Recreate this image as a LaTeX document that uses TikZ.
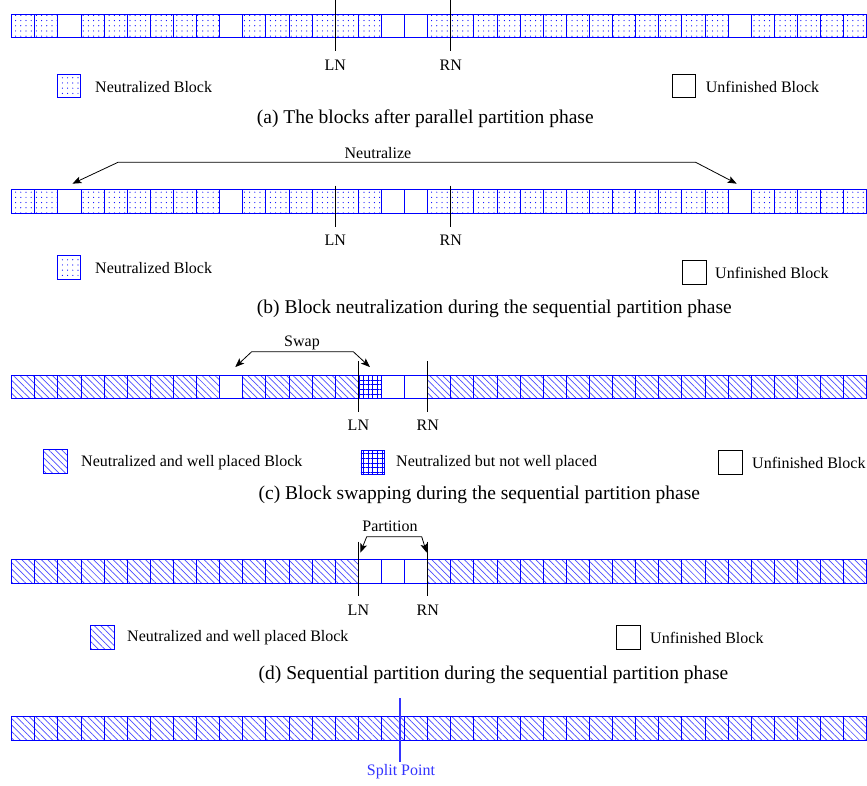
\documentclass[tikz,border=0pt]{standalone}
\usepackage{fontspec}
\setmainfont{Liberation Serif}
\usetikzlibrary{patterns.meta,arrows.meta}
\begin{document}
\begin{tikzpicture}[x=1pt,y=-1pt,
  blk/.style={draw=blue, line width=0.9pt, minimum width=23.11pt, minimum height=23.3pt, inner sep=0pt, outer sep=0pt},
  dotb/.style={blk, pattern={Dots[distance=5.2pt, radius=0.6pt]}, pattern color=blue},
  hatb/.style={blk, pattern={Lines[angle=-45, distance=4.6pt, line width=0.7pt]}, pattern color=blue!70},
  gridb/.style={blk, pattern={Hatch[angle=0, distance=4.6pt, line width=0.6pt]}, pattern color=blue},
  unf/.style={draw=black, line width=0.9pt, minimum width=23.3pt, minimum height=23.3pt, inner sep=0pt},
  lbl/.style={font=\fontsize{16}{19}\selectfont, inner sep=0pt},
  captxt/.style={font=\fontsize{19.5}{23}\selectfont, inner sep=0pt, anchor=west},
  mk/.style={line width=1.1pt, black},
  arr2/.style={line width=0.8pt, {Stealth[length=9pt,width=7pt,inset=2pt]}-{Stealth[length=9pt,width=7pt,inset=2pt]}}
]
\useasboundingbox (0,0) rectangle (867,785);

% ---------------- (a) ----------------
\foreach \i in {0,...,36}{
  \pgfmathtruncatemacro\e{(\i==2)||(\i==9)||(\i==16)||(\i==17)||(\i==31)}
  \ifnum\e=1 \node[blk] (a-\i) at ({11.7+(\i+0.5)*23.11},25.7) {};
  \else \node[dotb] (a-\i) at ({11.7+(\i+0.5)*23.11},25.7) {}; \fi
}
\coordinate (aLNt) at (335.2,0); \coordinate (aLNb) at (335.2,50.7);
\coordinate (aRNt) at (450.8,0); \coordinate (aRNb) at (450.8,50.7);
\draw[mk] (aLNt) -- (aLNb);
\draw[mk] (aRNt) -- (aRNb);
\node[lbl] (aLN) at (335.2,65) {LN};
\node[lbl] (aRN) at (450.8,65) {RN};
\node[dotb] (aleg1) at (69,86) {};
\node[lbl, anchor=west] (aleg1t) at (95,87.3) {Neutralized Block};
\node[unf] (aleg2) at (684,85.7) {};
\node[lbl, anchor=west] (aleg2t) at (705.7,87.3) {Unfinished Block};
\node[captxt] (acap) at (256.7,119) {(a) The blocks after parallel partition phase};

% ---------------- (b) ----------------
\foreach \i in {0,...,36}{
  \pgfmathtruncatemacro\e{(\i==2)||(\i==9)||(\i==16)||(\i==17)||(\i==31)}
  \ifnum\e=1 \node[blk] (b-\i) at ({11.7+(\i+0.5)*23.11},201.3) {};
  \else \node[dotb] (b-\i) at ({11.7+(\i+0.5)*23.11},201.3) {}; \fi
}
\coordinate (bLNt) at (335.2,185.7); \coordinate (bLNb) at (335.2,226.7);
\coordinate (bRNt) at (450.8,185.7); \coordinate (bRNb) at (450.8,226.7);
\draw[mk] (bLNt) -- (bLNb);
\draw[mk] (bRNt) -- (bRNb);
\node[lbl] (bLN) at (335.2,240.5) {LN};
\node[lbl] (bRN) at (450.8,240.5) {RN};
\coordinate (nz1) at (118,162.3);
\coordinate (nz2) at (695.7,162.3);
\draw[arr2] ([shift={(3,-6)}]b-2.north) -- (nz1) -- (nz2) -- ([shift={(-3,-6)}]b-31.north);
\node[lbl] (nzt) at (378,153) {Neutralize};
\node[dotb] (bleg1) at (69,267.5) {};
\node[lbl, anchor=west] (bleg1t) at (95,268) {Neutralized Block};
\node[unf] (bleg2) at (694.5,272.5) {};
\node[lbl, anchor=west] (bleg2t) at (715,272.5) {Unfinished Block};
\node[captxt] (bcap) at (256.7,308.5) {(b) Block neutralization during the sequential partition phase};

% ---------------- (c) ----------------
\foreach \i in {0,...,36}{
  \pgfmathtruncatemacro\e{(\i==9)||(\i==16)||(\i==17)}
  \ifnum\i=15 \node[gridb] (c-\i) at ({11.7+(\i+0.5)*23.11},386.7) {};
  \else\ifnum\e=1 \node[blk] (c-\i) at ({11.7+(\i+0.5)*23.11},386.7) {};
  \else \node[hatb] (c-\i) at ({11.7+(\i+0.5)*23.11},386.7) {}; \fi\fi
}
\coordinate (cLNt) at (358.4,361); \coordinate (cLNb) at (358.4,411.7);
\coordinate (cRNt) at (427.7,361); \coordinate (cRNb) at (427.7,411.7);
\draw[mk] (cLNt) -- (cLNb);
\draw[mk] (cRNt) -- (cRNb);
\node[lbl] (cLN) at (358.4,425) {LN};
\node[lbl] (cRN) at (427.7,425) {RN};
\coordinate (sw1) at (251.7,351.7);
\coordinate (sw2) at (353.3,351.7);
\draw[arr2] ([shift={(4,-8)}]c-9.north) -- (sw1) -- (sw2) -- ([shift={(0,-8)}]c-15.north);
\node[lbl] (swt) at (302,342.7) {Swap};
\node[hatb] (cleg1) at (55.5,461.5) {};
\node[lbl, anchor=west] (cleg1t) at (81,463) {Neutralized and well placed Block};
\node[gridb] (cleg2) at (372.5,462.5) {};
\node[lbl, anchor=west] (cleg2t) at (396,463) {Neutralized but not well placed};
\node[unf] (cleg3) at (730.5,462.5) {};
\node[lbl, anchor=west] (cleg3t) at (752,463) {Unfinished Block};
\node[captxt] (ccap) at (258.5,495) {(c) Block swapping during the sequential partition phase};

% ---------------- (d) ----------------
\foreach \i in {0,...,36}{
  \pgfmathtruncatemacro\e{(\i==15)||(\i==16)||(\i==17)}
  \ifnum\e=1 \node[blk] (d-\i) at ({11.7+(\i+0.5)*23.11},571.3) {};
  \else \node[hatb] (d-\i) at ({11.7+(\i+0.5)*23.11},571.3) {}; \fi
}
\coordinate (dLNt) at (358.4,541.7); \coordinate (dLNb) at (358.4,596);
\coordinate (dRNt) at (427.7,541.7); \coordinate (dRNb) at (427.7,596);
\draw[mk] (dLNt) -- (dLNb);
\draw[mk] (dRNt) -- (dRNb);
\node[lbl] (dLN) at (358.4,610) {LN};
\node[lbl] (dRN) at (427.7,610) {RN};
\coordinate (pt1) at (366.7,536.7);
\coordinate (pt2) at (421.7,536.7);
\draw[arr2] ([shift={(2,-7)}]d-15.north west) -- (pt1) -- (pt2) -- ([shift={(-1,-7)}]d-17.north east);
\node[lbl] (ptt) at (390,526.7) {Partition};
\node[hatb] (dleg1) at (102.5,637.5) {};
\node[lbl, anchor=west] (dleg1t) at (127,637.5) {Neutralized and well placed Block};
\node[unf] (dleg2) at (628.5,637.5) {};
\node[lbl, anchor=west] (dleg2t) at (650,637.5) {Unfinished Block};
\node[captxt] (dcap) at (258.5,675) {(d) Sequential partition during the sequential partition phase};

% ---------------- (e) ----------------
\foreach \i in {0,...,36}{
  \node[hatb] (e-\i) at ({11.7+(\i+0.5)*23.11},728.3) {};
}
\coordinate (spt) at (400,698); \coordinate (spb) at (400,762);
\draw[line width=1.1pt, blue!80] (spt) -- (spb);
\node[lbl, text=blue!80] (spl) at (401,772) {Split Point};
\end{tikzpicture}
\end{document}
